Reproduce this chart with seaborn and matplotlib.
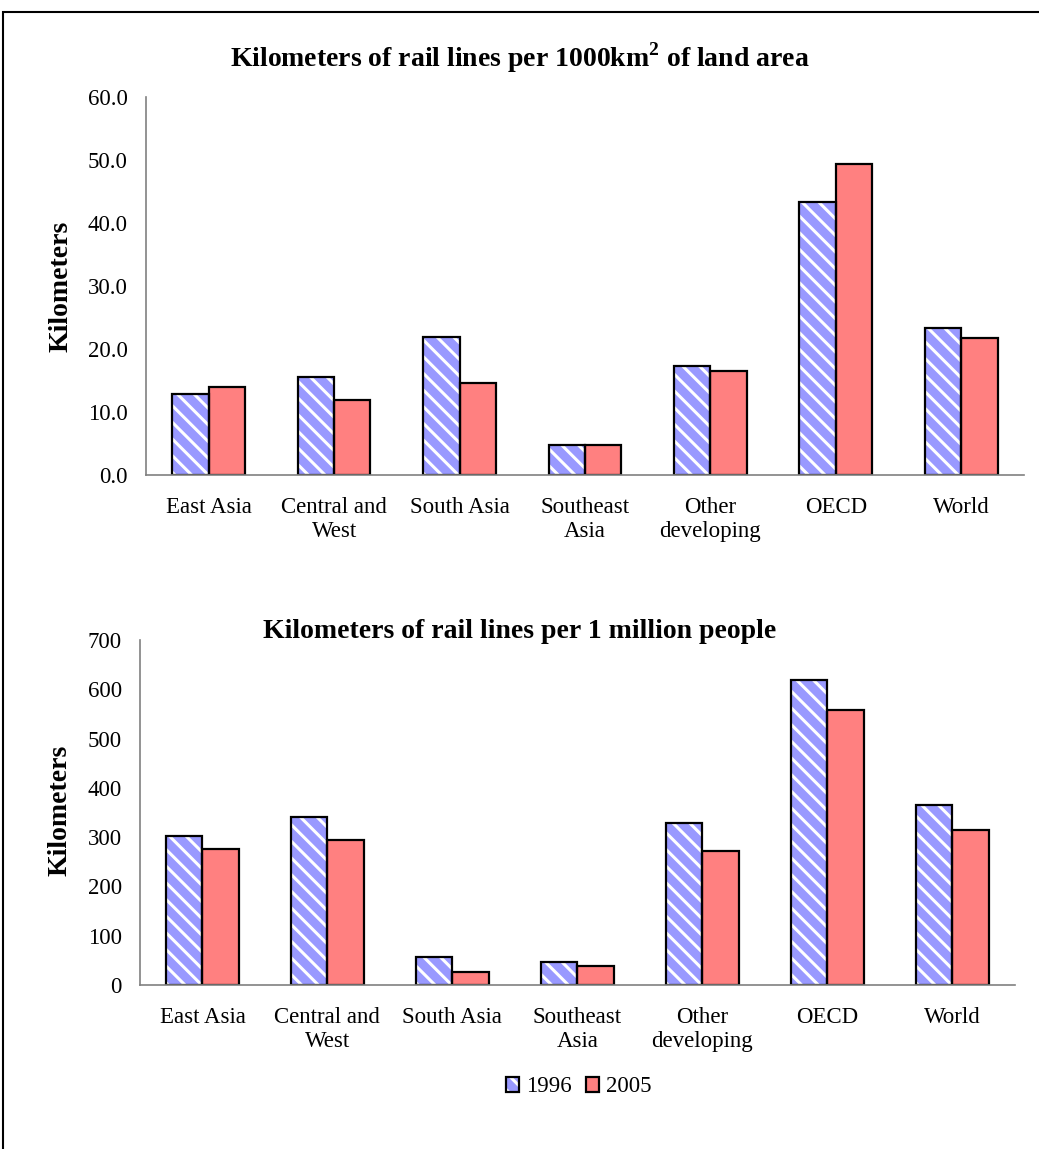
"""
Rail line density: per land area and per population, 1996 vs 2005.
"""

import numpy as np
import pandas as pd
import seaborn as sns
import matplotlib
matplotlib.use("Agg")
import matplotlib.pyplot as plt
from matplotlib.patches import Rectangle, Patch

# data
regions = ["East Asia", "Central and\nWest", "South Asia", "Southeast\nAsia",
           "Other\ndeveloping", "OECD", "World"]
years = ["1996", "2005"]
per_area_1996 = [12.9, 15.5, 21.9, 4.8, 17.3, 43.3, 23.3]
per_area_2005 = [14.0, 11.9, 14.6, 4.8, 16.5, 49.3, 21.7]
per_people_1996 = [302, 340, 57, 46, 329, 619, 366]
per_people_2005 = [275, 294, 27, 38, 271, 557, 314]

blue = "#9999FF"
red = "#FF8080"
grey = "#808080"

sns.set_style("white")
plt.rcParams["font.family"] = ["Liberation Serif", "DejaVu Serif"]
plt.rcParams["mathtext.fontset"] = "custom"
plt.rcParams["mathtext.bf"] = "Liberation Serif:bold"
plt.rcParams["mathtext.rm"] = "Liberation Serif"
plt.rcParams["hatch.linewidth"] = 2.2
for key in ["text.color", "axes.labelcolor", "xtick.color", "ytick.color"]:
    plt.rcParams[key] = "black"


def long_frame(v96, v05):
    return pd.DataFrame({
        "region": regions * 2,
        "year": [years[0]] * len(regions) + [years[1]] * len(regions),
        "value": list(v96) + list(v05),
    })


def draw(ax, df, yticks, fmt):
    sns.barplot(data=df, x="region", y="value", hue="year", hue_order=years,
                palette=[blue, red], width=0.58, edgecolor="black",
                linewidth=1.6, legend=False, ax=ax, saturation=1)
    # hatched 1996 bars: white stripes, black outline drawn on top
    for bar in ax.containers[0]:
        bar.set_hatch("\\\\")
        bar.set_edgecolor("white")
        bar.set_linewidth(0)
        ax.add_patch(Rectangle(bar.get_xy(), bar.get_width(), bar.get_height(),
                               fill=False, edgecolor="black", linewidth=1.6,
                               zorder=bar.get_zorder() + 0.1))
    ax.set_xlim(-0.5, len(regions) - 0.5)
    ax.set_ylim(yticks[0], yticks[-1])
    ax.set_yticks(yticks)
    ax.set_yticklabels([fmt.format(t) for t in yticks], fontsize=16.5)
    ax.set_xticks(range(len(regions)))
    ax.set_xticklabels(regions, fontsize=16.5, linespacing=1.15)
    ax.set_xticks(np.arange(-0.5, len(regions), 1), minor=True)
    ax.tick_params(axis="x", which="major", length=0, pad=16)
    ax.tick_params(axis="x", which="minor", length=7, width=1, color=grey,
                   direction="out")
    ax.tick_params(axis="y", length=7, width=1, color=grey, direction="out",
                   pad=6)
    ax.set_xlabel("")
    ax.set_ylabel("Kilometers", fontsize=20, fontweight="bold")
    for side in ["top", "right"]:
        ax.spines[side].set_visible(False)
    for side in ["left", "bottom"]:
        ax.spines[side].set_color(grey)
        ax.spines[side].set_linewidth(1.2)


fig = plt.figure(figsize=(10.39, 11.49), dpi=100)

ax1 = fig.add_axes([0.1405, 0.5866, 0.845, 0.329])
draw(ax1, long_frame(per_area_1996, per_area_2005),
     [0, 10, 20, 30, 40, 50, 60], "{:.1f}")
ax1.yaxis.set_label_coords(-0.083, 0.5)

ax2 = fig.add_axes([0.1347, 0.1427, 0.842, 0.3003])
draw(ax2, long_frame(per_people_1996, per_people_2005),
     [0, 100, 200, 300, 400, 500, 600, 700], "{:.0f}")
ax2.yaxis.set_label_coords(-0.077, 0.507)

fig.text(0.5, 0.9495, r"Kilometers of rail lines per 1000km$^\mathbf{2}$ of land area",
         ha="center", va="center", fontsize=20, fontweight="bold")
fig.text(0.5, 0.45, "Kilometers of rail lines per 1 million people",
         ha="center", va="center", fontsize=20, fontweight="bold")

# legend
h96 = (Patch(facecolor=blue, hatch="\\\\", edgecolor="white", linewidth=0),
       Patch(fill=False, edgecolor="black", linewidth=1.6))
h05 = Patch(facecolor=red, edgecolor="black", linewidth=1.6)
fig.legend([h96, h05], years, loc="center", bbox_to_anchor=(0.557, 1 - 1087 / 1149),
           ncol=2, frameon=False, fontsize=16.5, handlelength=0.6,
           handleheight=0.6, handletextpad=0.3, columnspacing=0.6)

# outer frame
fig.patches.append(Rectangle((0.003, -0.1), 1.2, 1.1 - 12 / 1149,
                             transform=fig.transFigure, fill=False,
                             edgecolor="black", linewidth=1.5))

fig.savefig("out.png", dpi=100)
